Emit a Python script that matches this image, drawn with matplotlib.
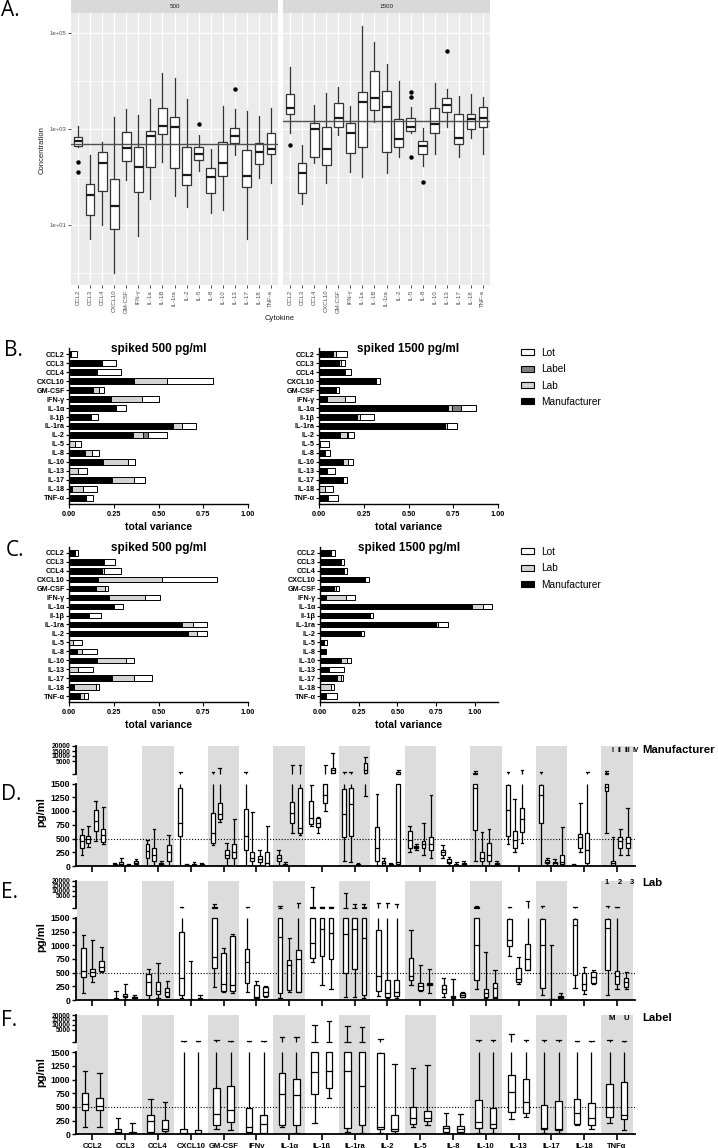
import numpy as np
import matplotlib
matplotlib.use("Agg")
import matplotlib.pyplot as plt
from matplotlib.patches import Rectangle, Patch

# ---- data ----
a_names = ["CCL2", "CCL3", "CCL4", "CXCL10", "GM-CSF", "IFN-γ", "IL-1a", "IL-1B", "IL-1ra",
           "IL-2", "IL-5", "IL-8", "IL-10", "IL-13", "IL-17", "IL-18", "TNF-a"]
bc_names = ["CCL2", "CCL3", "CCL4", "CXCL10", "GM-CSF", "IFN-γ", "IL-1α", "Il-1β", "IL-1ra",
            "IL-2", "IL-5", "IL-8", "IL-10", "IL-13", "IL-17", "IL-18", "TNF-α"]
f_names = ["CCL2", "CCL3", "CCL4", "CXCL10", "GM-CSF", "IFNγ", "IL-1α", "IL-1ß", "IL-1ra",
           "IL-2", "IL-5", "IL-8", "IL-10", "IL-13", "IL-17", "IL-18", "TNFα"]

# panel A, spiked 500
a500_lo = [430, 5, 10, 1.0, 87, 6, 35, 208, 40, 24, 135, 18, 21, 288, 5, 94, 77]
a500_q1 = [450, 16, 52, 8.3, 212, 49.5, 164, 775, 156, 68, 226, 47, 105, 503, 61, 187, 297]
a500_med = [562, 42, 192, 25, 396, 159, 725, 1170, 1120, 110, 300, 101, 192, 715, 106, 337, 383]
a500_q3 = [690, 70, 337, 91, 850, 430, 920, 2780, 1750, 416, 430, 151, 545, 1030, 365, 520, 840]
a500_hi = [1155, 288, 545, 1750, 2610, 1960, 4160, 14900, 11400, 4220, 750, 383, 3060, 2610, 2410, 1870, 2690]
a500_out = {0: [202, 125], 10: [1250], 13: [6700]}
# panel A, spiked 1500
a1500_lo = [810, 28, 192, 77, 750, 130, 101, 1420, 119, 264, 810, 170, 297, 1120, 264, 640, 297]
a1500_q1 = [2020, 45.6, 257, 178, 1120, 320, 430, 2490, 337, 416, 920, 297, 810, 2220, 480, 985, 1120]
a1500_med = [2780, 119, 985, 383, 1670, 840, 3600, 4490, 2830, 610, 1100, 442, 1270, 3160, 660, 1610, 1720]
a1500_q3 = [5280, 192, 1310, 1120, 3540, 1310, 5990, 16200, 6180, 1590, 1670, 570, 2690, 4490, 2020, 2050, 2910]
a1500_hi = [19300, 464, 3160, 5540, 7630, 3020, 140000, 64000, 22600, 10000, 2830, 1030, 8950, 6700, 4870, 5360, 4570]
a1500_out = {0: [464], 10: [5800, 4570, 257], 11: [79], 13: [42800]}

# panel B (manufacturer, lab, label, lot)
b500_manu = [0.01, 0.183, 0.149, 0.363, 0.132, 0.233, 0.263, 0.121, 0.579, 0.356, 0, 0.089, 0.192, 0, 0.238, 0.015, 0.089]
b500_lab = [0, 0, 0.009, 0.186, 0.037, 0.173, 0, 0, 0.05, 0.059, 0.034, 0.038, 0.139, 0.052, 0.125, 0.065, 0.005]
b500_label = [0, 0, 0, 0, 0, 0, 0, 0, 0, 0.025, 0, 0, 0, 0, 0, 0, 0]
b500_lot = [0.036, 0.078, 0.131, 0.257, 0.028, 0.098, 0.055, 0.039, 0.078, 0.106, 0.031, 0.042, 0.038, 0.05, 0.062, 0.075, 0.038]
b1500_manu = [0.08, 0.112, 0.145, 0.32, 0.089, 0.043, 0.723, 0.21, 0.704, 0.117, 0.005, 0.034, 0.136, 0.043, 0.127, 0, 0.052]
b1500_lab = [0.013, 0.01, 0, 0, 0.005, 0.102, 0.022, 0.02, 0.013, 0.038, 0, 0, 0.028, 0, 0.007, 0.034, 0]
b1500_label = [0, 0, 0, 0, 0, 0, 0.047, 0, 0, 0.008, 0, 0, 0, 0, 0, 0, 0]
b1500_lot = [0.062, 0.023, 0.032, 0.018, 0.019, 0.056, 0.085, 0.079, 0.053, 0.033, 0.053, 0.027, 0.024, 0.046, 0.021, 0.046, 0.052]

# panel C (manufacturer, lab, lot)
c500_manu = [0.034, 0.196, 0.183, 0.16, 0.151, 0.225, 0.253, 0.113, 0.629, 0.667, 0, 0.046, 0.157, 0, 0.24, 0.03, 0.061]
c500_lab = [0, 0, 0.01, 0.358, 0.05, 0.2, 0, 0, 0.062, 0.046, 0.024, 0.025, 0.16, 0.052, 0.125, 0.12, 0.022]
c500_lot = [0.018, 0.061, 0.096, 0.307, 0.019, 0.083, 0.051, 0.064, 0.078, 0.056, 0.046, 0.087, 0.048, 0.084, 0.1, 0.02, 0.022]
c1500_manu = [0.069, 0.133, 0.155, 0.29, 0.09, 0.037, 0.985, 0.32, 0.748, 0.26, 0.025, 0.037, 0.133, 0.058, 0.11, 0, 0.037]
c1500_lab = [0, 0, 0, 0, 0.012, 0.129, 0.065, 0, 0.014, 0.005, 0, 0, 0.044, 0, 0.023, 0.069, 0]
c1500_lot = [0.028, 0.022, 0.022, 0.028, 0.021, 0.058, 0.06, 0.024, 0.068, 0.02, 0.02, 0, 0.023, 0.097, 0.017, 0.021, 0.073]

# panels D-F: (min, q1, median, q3, max) in pg/ml, one list per cytokine
d_boxes = [
    [(200, 330, 450, 560, 680), (350, 420, 490, 540, 720), (450, 640, 820, 1010, 1190), (400, 440, 560, 670, 1080)],
    [(0, 5, 15, 30, 60), (0, 20, 40, 70, 150), (0, 5, 10, 20, 40), (0, 30, 60, 100, 130)],
    [(0, 150, 270, 400, 475), (0, 100, 200, 330, 670), (0, 20, 40, 60, 100), (0, 100, 250, 385, 566)],
    [(0, 550, 790, 1420, 1900), (0, 5, 10, 20, 40), (0, 10, 25, 40, 80), (0, 5, 10, 30, 50)],
    [(380, 420, 600, 970, 1900), (800, 850, 950, 1150, 3000), (0, 150, 200, 300, 420), (0, 150, 250, 400, 850)],
    [(0, 300, 550, 1040, 1900), (0, 100, 150, 250, 990), (0, 80, 120, 180, 300), (0, 0, 50, 250, 720)],
    [(0, 100, 150, 200, 300), (0, 10, 20, 40, 80), (600, 790, 970, 1155, 3800), (560, 596, 693, 1418, 3800)],
    [(720, 760, 870, 1180, 1480), (600, 717, 785, 876, 900), (1000, 1143, 1300, 1490, 3800), (1600, 1700, 2500, 3100, 13000)],
    [(100, 533, 944, 1400, 1900), (80, 540, 1131, 1420, 1900), (0, 0, 10, 30, 60), (1280, 1700, 2500, 4500, 9000)],
    [(0, 100, 330, 717, 1314), (0, 20, 50, 100, 150), (0, 0, 10, 30, 60), (0, 30, 80, 2000, 2600)],
    [(250, 330, 475, 640, 730), (300, 330, 350, 370, 400), (200, 330, 400, 460, 785), (150, 290, 400, 530, 1296)],
    [(150, 200, 250, 300, 380), (20, 50, 80, 120, 160), (0, 10, 20, 40, 70), (0, 10, 30, 50, 90)],
    [(100, 650, 1420, 1700, 2300), (0, 100, 150, 250, 624), (0, 100, 200, 420, 668), (0, 10, 30, 60, 100)],
    [(400, 540, 1022, 1480, 1900), (250, 330, 475, 643, 1217), (420, 625, 850, 1053, 2500), None],
    [(0, 790, 1296, 1480, 1900), (20, 50, 80, 110, 150), (0, 20, 50, 80, 120), (0, 30, 80, 200, 717)],
    [(0, 0, 10, 20, 40), (250, 330, 523, 584, 1143), (0, 50, 300, 606, 1900), None],
    [(606, 1360, 1440, 1700, 2300), (0, 20, 50, 100, 533), (200, 330, 450, 533, 668), (200, 330, 420, 533, 1050)],
]
e_boxes = [
    [(131, 418, 525, 943, 1194), (328, 448, 507, 567, 1093), (507, 537, 597, 716, 967)],
    [(0, 0, 10, 30, 167), (20, 60, 80, 107, 298), (0, 30, 50, 60, 90)],
    [(12, 90, 328, 478, 565), (30, 107, 167, 328, 669), (48, 78, 150, 221, 345)],
    [(30, 90, 400, 1250, 1900), (0, 0, 5, 10, 716), (0, 10, 20, 40, 90)],
    [(240, 585, 790, 1700, 2600), (140, 170, 300, 860, 943), (119, 167, 280, 1170, 1200)],
    [(149, 320, 690, 925, 1900), (20, 30, 60, 270, 346), (50, 72, 150, 240, 260)],
    [(40, 131, 1150, 1600, 2200), (149, 179, 645, 728, 1134), (140, 149, 758, 907, 2800)],
    [(700, 776, 1040, 1700, 13500), (269, 800, 1290, 1700, 1900), (209, 746, 1230, 1700, 1900)],
    [(60, 500, 1200, 1600, 8000), (60, 560, 1290, 1600, 2500), (30, 90, 1134, 1700, 2600)],
    [(72, 161, 448, 1284, 2800), (42, 60, 119, 358, 2800), (40, 72, 149, 358, 2500)],
    [(269, 358, 448, 764, 1284), (167, 179, 251, 310, 639), (137, 280, 298, 310, 567)],
    [(60, 131, 209, 269, 406), (0, 30, 50, 70, 388), (50, 60, 100, 120, 140)],
    [(209, 370, 1000, 1700, 2000), (40, 60, 131, 209, 884), (40, 60, 221, 310, 549)],
    [(806, 985, 1093, 1490, 1900), (287, 328, 388, 579, 788), (555, 555, 746, 1027, 3600)],
    [(90, 227, 997, 1490, 2000), (0, 0, 10, 20, 1015), (20, 30, 50, 80, 120)],
    [(227, 460, 1373, 1490, 1900), (107, 179, 287, 496, 597), (287, 310, 420, 520, 540)],
    [(90, 549, 1313, 1490, 2000), (209, 298, 448, 537, 1900), (209, 239, 330, 400, 507)],
]
f_boxes = [
    [(137, 446, 553, 750, 1166), (137, 446, 524, 672, 1119)],
    [(0, 18, 48, 89, 303), (0, 5, 20, 50, 208)],
    [(18, 48, 238, 345, 643), (18, 60, 90, 268, 583)],
    [(0, 5, 30, 89, 1900), (0, 5, 30, 80, 1900)],
    [(89, 178, 375, 851, 2200), (77, 226, 452, 892, 1900)],
    [(18, 48, 137, 482, 1900), (10, 30, 184, 345, 1900)],
    [(137, 167, 732, 1119, 3000), (30, 167, 714, 1012, 3000)],
    [(208, 744, 1136, 1700, 9500), (672, 839, 1150, 1700, 14000)],
    [(48, 107, 1150, 1700, 9000), (30, 167, 880, 1700, 8000)],
    [(30, 89, 125, 1490, 2400), (18, 65, 89, 345, 1279)],
    [(137, 196, 303, 506, 1220), (167, 244, 303, 434, 1267)],
    [(18, 48, 107, 149, 393), (18, 48, 100, 149, 363)],
    [(18, 107, 226, 631, 2300), (18, 107, 184, 482, 2300)],
    [(286, 416, 779, 1089, 3800), (315, 387, 595, 1017, 2200)],
    [(18, 89, 107, 536, 2300), (18, 77, 89, 613, 2300)],
    [(167, 196, 393, 654, 1900), (95, 178, 303, 571, 1900)],
    [(214, 315, 494, 928, 2300), (77, 286, 345, 958, 2000)],
]

W, H = 718, 1148
fig = plt.figure(figsize=(W / 100, H / 100), dpi=100)
ARIAL = "Liberation Sans"
LETTER = "Open Sans"


def add_ax(x0, y0, x1, y1):
    return fig.add_axes([x0 / W, 1 - y1 / H, (x1 - x0) / W, (y1 - y0) / H])


def ftext(x, y, s, **kw):
    fig.text(x / W, 1 - y / H, s, **kw)


# ---------------- A ----------------
facets = [
    (71, 278, "500", 500, a500_lo, a500_q1, a500_med, a500_q3, a500_hi, a500_out),
    (283, 490, "1500", 1500, a1500_lo, a1500_q1, a1500_med, a1500_q3, a1500_hi, a1500_out),
]
for k, (x0, x1, strip, ref, lo, q1, med, q3, hi, out) in enumerate(facets):
    ax = add_ax(x0, 13, x1, 285)
    ax.set_facecolor("#EBEBEB")
    ax.set_yscale("log")
    ax.set_ylim(10 ** -0.25, 10 ** 5.42)
    ax.set_xlim(-0.6, 16.6)
    for v in [1, 100, 1e4]:
        ax.axhline(v, color="white", lw=0.45, zorder=0)
    for v in [10, 1e3, 1e5]:
        ax.axhline(v, color="white", lw=0.9, zorder=0)
    for i in range(17):
        ax.axvline(i, color="white", lw=0.9, zorder=0)
    stats = [dict(whislo=lo[i], q1=q1[i], med=med[i], q3=q3[i], whishi=hi[i],
                  fliers=out.get(i, [])) for i in range(17)]
    ax.bxp(stats, positions=range(17), widths=0.7, showcaps=False, patch_artist=True,
           boxprops=dict(facecolor="white", edgecolor="#333333", lw=0.9),
           medianprops=dict(color="#1A1A1A", lw=1.6),
           whiskerprops=dict(color="#333333", lw=0.9),
           flierprops=dict(marker="o", markerfacecolor="k", markeredgecolor="k", markersize=2.2))
    ax.axhline(ref, color="#505050", lw=1.0, zorder=5)
    for s in ax.spines.values():
        s.set_visible(False)
    ax.yaxis.set_minor_locator(matplotlib.ticker.NullLocator())
    ax.set_yticks([10, 1e3, 1e5])
    ax.set_yticklabels(["1e+01", "1e+03", "1e+05"], family=ARIAL)
    ax.set_xticks(range(17))
    ax.set_xticklabels(a_names, rotation=90, family=ARIAL)
    ax.tick_params(length=2, width=0.6, color="#333333", labelsize=4.3,
                   labelcolor="#4D4D4D", pad=1.5)
    if k == 1:
        ax.tick_params(axis="y", length=0, labelleft=False)
    sax = add_ax(x0, 0, x1, 13)
    sax.set_facecolor("#D9D9D9")
    sax.set_xticks([])
    sax.set_yticks([])
    for s in sax.spines.values():
        s.set_visible(False)
    sax.text(0.5, 0.5, strip, ha="center", va="center", fontsize=4.5, color="#1A1A1A", family=ARIAL)

ftext(42, 150, "Concentration", rotation=90, ha="center", va="center", fontsize=5.5,
      color="#1A1A1A", family=ARIAL)
ftext(280, 318, "Cytokine", ha="center", va="center", fontsize=5.5, color="#1A1A1A", family=ARIAL)


# ---------------- B / C ----------------
def var_panel(x0, y0, x1, y1, segs, colors, xmax, title, ylab):
    ax = add_ax(x0, y0, x1, y1)
    y = np.arange(17)
    left = np.zeros(17)
    for vals, c in zip(segs, colors):
        vals = np.array(vals, dtype=float)
        ax.barh(y, vals, left=left, height=0.6, color=c, edgecolor="k",
                linewidth=[0.7 if v > 0 else 0 for v in vals], zorder=2)
        left += vals
    ax.set_xlim(0, xmax)
    ax.set_ylim(16.67, -0.67)
    ax.set_yticks(y)
    ax.set_yticklabels(ylab, fontsize=5.2, fontweight="bold", family=ARIAL)
    ax.set_xticks([0, 0.25, 0.5, 0.75, 1.0])
    ax.set_xticklabels(["0.00", "0.25", "0.50", "0.75", "1.00"], fontsize=5.3,
                       fontweight="bold", family=ARIAL)
    ax.tick_params(axis="y", length=2, width=0.8, pad=1)
    ax.tick_params(axis="x", length=3, width=0.8, pad=2)
    for s in ["top", "right"]:
        ax.spines[s].set_visible(False)
    for s in ["left", "bottom"]:
        ax.spines[s].set_linewidth(1.0)
    ax.set_title(title, fontsize=8.5, fontweight="bold", family=ARIAL, pad=-3, y=1.0)
    ax.set_xlabel("total variance", fontsize=7.5, fontweight="bold", family=ARIAL, labelpad=3)
    return ax


col4 = ["black", "#D3D3D3", "#808080", "white"]
var_panel(69, 348, 248, 504, [b500_manu, b500_lab, b500_label, b500_lot], col4, 1.0,
          "spiked 500 pg/ml", bc_names)
var_panel(319, 348, 498, 504, [b1500_manu, b1500_lab, b1500_label, b1500_lot], col4, 1.0,
          "spiked 1500 pg/ml", bc_names)
col3 = ["black", "#D3D3D3", "white"]
var_panel(69, 547, 248, 702, [c500_manu, c500_lab, c500_lot], col3, 1.0,
          "spiked 500 pg/ml", bc_names)
var_panel(320, 547, 498, 702, [c1500_manu, c1500_lab, c1500_lot], col3, 1.15,
          "spiked 1500 pg/ml", bc_names)

hb = [Patch(facecolor="white", edgecolor="k", lw=0.8, label="Lot"),
      Patch(facecolor="#808080", edgecolor="k", lw=0.8, label="Label"),
      Patch(facecolor="#D3D3D3", edgecolor="k", lw=0.8, label="Lab"),
      Patch(facecolor="black", edgecolor="k", lw=0.8, label="Manufacturer")]
fig.legend(handles=hb, loc="upper left", bbox_to_anchor=(521 / W, 1 - 348 / H), frameon=False,
           handlelength=1.3, handleheight=0.55, labelspacing=0.62,
           handletextpad=0.7, borderaxespad=0, borderpad=0, prop=dict(family=ARIAL, size=7.3))
hc = [hb[0], hb[2], hb[3]]
fig.legend(handles=hc, loc="upper left", bbox_to_anchor=(521 / W, 1 - 547 / H), frameon=False,
           handlelength=1.3, handleheight=0.55, labelspacing=0.62,
           handletextpad=0.7, borderaxespad=0, borderpad=0, prop=dict(family=ARIAL, size=7.3))

# ---------------- D / E / F ----------------
T, T1 = 1500, 1500.5
kv = [0, 1500, T1, 5000, 20000]
ku = [0, 82.5, 92.5, 105, 120]


def fwd(v):
    return np.interp(v, kv, ku)


def inv(u):
    return np.interp(u, ku, kv)


def vseg(ax, x, a, b):
    if b <= T or a >= T1:
        ax.plot([x, x], [a, b], color="k", lw=0.9, zorder=2, solid_capstyle="butt")
    else:
        ax.plot([x, x], [a, T], color="k", lw=0.9, zorder=2, solid_capstyle="butt")
        ax.plot([x, x], [T1, b], color="k", lw=0.9, zorder=2, solid_capstyle="butt")


def draw_box(ax, x, w, st):
    lo, q1, med, q3, hi = st
    vseg(ax, x, lo, q1)
    vseg(ax, x, q3, hi)
    parts = []
    if q1 < T:
        parts.append((q1, min(q3, T)))
    if q3 > T1:
        parts.append((max(q1, T1), q3))
    for p0, p1 in parts:
        ax.add_patch(Rectangle((x - w / 2, p0), w, p1 - p0, facecolor="white",
                               edgecolor="k", lw=0.9, zorder=3))
    if med <= T or med >= T1:
        ax.plot([x - w / 2, x + w / 2], [med, med], color="k", lw=0.9, zorder=4)
    cw = w * 0.7
    for v in (lo, hi):
        ax.plot([x - cw / 2, x + cw / 2], [v, v], color="k", lw=0.9, zorder=4)


def box_panel(y0, y1, boxes, offs, w, show_names):
    ax = add_ax(76, y0, 635, y1)
    ax.set_yscale("function", functions=(fwd, inv))
    ax.set_ylim(0, 20000)
    ax.set_xlim(-0.5, 16.55)
    for i in range(0, 17, 2):
        ax.axvspan(i - 0.48, i + 0.48, color="#DCDCDC", lw=0, zorder=0)
    ax.axhline(500, color="k", lw=0.8, ls=(0, (1, 1.6)), zorder=1)
    for i, grp in enumerate(boxes):
        for o, st in zip(offs, grp):
            if st is not None:
                draw_box(ax, i + o, w, st)
    for s in ["top", "right", "left"]:
        ax.spines[s].set_visible(False)
    ax.spines["bottom"].set_linewidth(1.3)
    ax.plot([-0.5, -0.5], [0, T], color="k", lw=1.3, clip_on=False, zorder=5)
    ax.plot([-0.5, -0.5], [T1, 20000], color="k", lw=1.3, clip_on=False, zorder=5)
    yt = [0, 250, 500, 750, 1000, 1250, 1500, T1, 5000, 10000, 15000, 20000]
    ax.set_yticks(yt)
    ax.set_yticklabels(["0", "250", "500", "750", "1000", "1250", "1500", "",
                        "5000", "10000", "15000", "20000"], fontweight="bold", family=ARIAL)
    for t, v in zip(ax.get_yticklabels(), yt):
        t.set_fontsize(4.9 if v > T else 6.3)
    ax.tick_params(axis="y", length=3, width=1.0, pad=1)
    ax.set_xticks(range(17))
    if show_names:
        ax.set_xticklabels(f_names, fontsize=5.5, fontweight="bold", family=ARIAL)
    else:
        ax.set_xticklabels([])
    ax.tick_params(axis="x", length=4, width=1.2, pad=2)
    return ax


box_panel(746, 866, d_boxes, [-0.32, -0.12, 0.1, 0.33], 0.12, False)
box_panel(880.7, 1000, e_boxes, [-0.28, 0.0, 0.28], 0.14, False)
box_panel(1015, 1134.3, f_boxes, [-0.22, 0.22], 0.2, True)

for yy in (812, 937, 1072):
    ftext(41, yy, "pg/ml", rotation=90, ha="center", va="center", fontsize=8,
          fontweight="bold", family=ARIAL)

ftext(642, 750, "Manufacturer", ha="left", va="center", fontsize=8.2, fontweight="bold", family=ARIAL)
for xx, s in zip([612, 619, 627, 636], ["I", "II", "III", "IV"]):
    ftext(xx, 750, s, ha="center", va="center", fontsize=4.8, fontweight="bold", family=ARIAL)
ftext(642, 883, "Lab", ha="left", va="center", fontsize=8.2, fontweight="bold", family=ARIAL)
for xx, s in zip([607, 620, 632], ["1", "2", "3"]):
    ftext(xx, 883, s, ha="center", va="center", fontsize=5.5, fontweight="bold", family=ARIAL)
ftext(642, 1018, "Label", ha="left", va="center", fontsize=8.2, fontweight="bold", family=ARIAL)
for xx, s in zip([612, 626], ["M", "U"]):
    ftext(xx, 1018, s, ha="center", va="center", fontsize=5.5, fontweight="bold", family=ARIAL)

# panel letters
for s, x, y in [("A.", 1, 10), ("B.", 4, 350), ("C.", 6, 551), ("D.", 1, 795), ("E.", 1, 892),
                ("F.", 1, 1020)]:
    ftext(x, y, s, ha="left", va="center", fontsize=15, family=LETTER)

fig.savefig("out.png", dpi=100)
